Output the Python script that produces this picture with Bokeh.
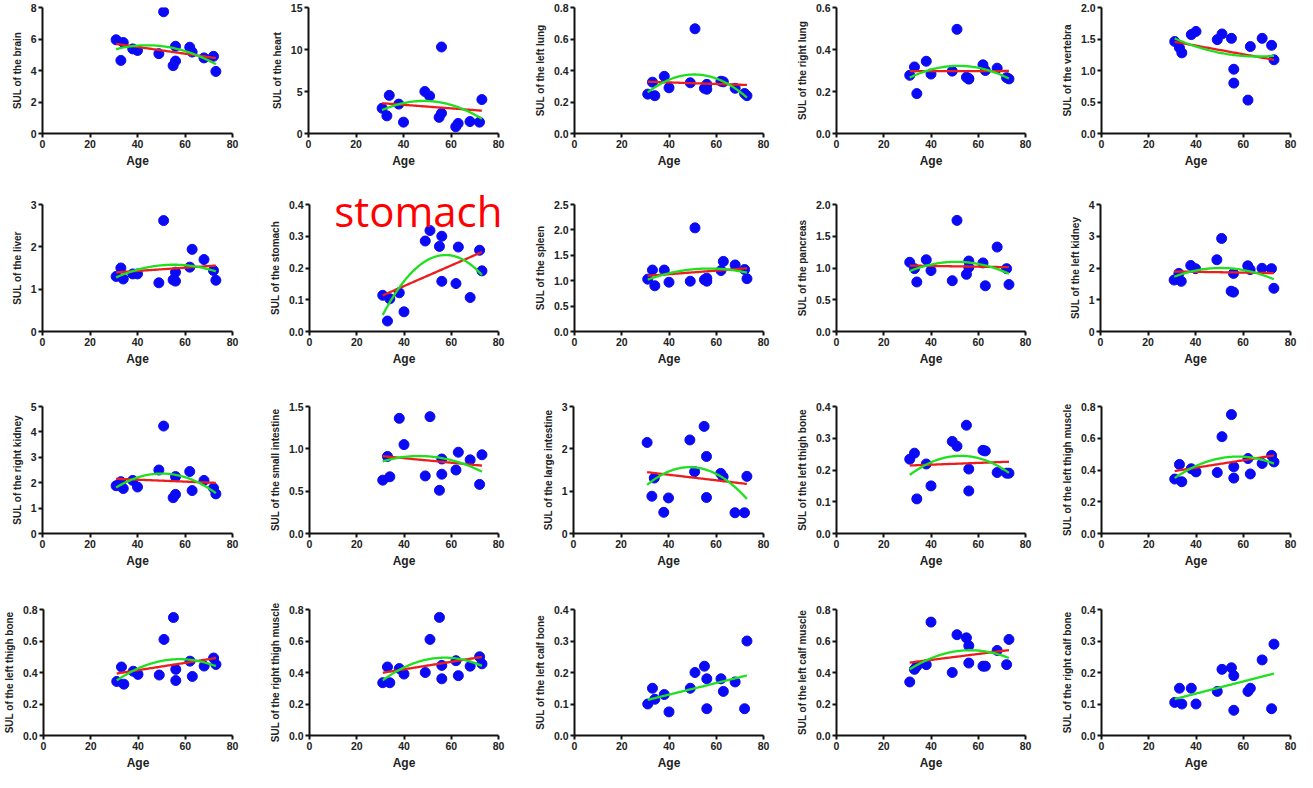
import numpy as np
from bokeh.plotting import figure
from bokeh.layouts import column, row
from bokeh.models import FixedTicker, PrintfTickFormatter, Range1d, Title
from bokeh.embed import file_html
from bokeh.resources import INLINE

# ---------------- data ----------------
age = [31, 33, 34, 38, 40, 49, 51, 55, 56, 56, 62, 63, 68, 72, 73]

brain = [5.95, 4.64, 5.78, 5.37, 5.27, 5.07, 7.73, 4.31, 4.60, 5.54, 5.48, 5.17, 4.80, 4.90, 3.94]
heart = [3.0, 2.1, 4.54, 3.5, 1.35, 5.0, 4.46, 1.92, 10.3, 2.42, 0.8, 1.2, 1.42, 1.35, 4.04]
left_lung = [0.25, 0.326, 0.24, 0.363, 0.29, 0.322, 0.665, 0.287, 0.312, 0.281, 0.332, 0.328, 0.287, 0.254, 0.24]
right_lung = [0.277, 0.317, 0.19, 0.344, 0.283, 0.297, 0.496, 0.268, 0.259, 0.262, 0.327, 0.30, 0.311, 0.266, 0.26]
vertebra = [1.46, 1.36, 1.28, 1.57, 1.62, 1.49, 1.58, 1.51, 1.02, 0.80, 0.53, 1.38, 1.51, 1.40, 1.17]

liver = [1.30, 1.50, 1.24, 1.36, 1.36, 1.15, 2.62, 1.22, 1.40, 1.19, 1.52, 1.94, 1.70, 1.44, 1.21]
stomach = [0.114, 0.033, 0.103, 0.122, 0.062, 0.285, 0.318, 0.268, 0.300, 0.158, 0.151, 0.266, 0.107, 0.256, 0.191]
spleen = [1.03, 1.21, 0.90, 1.21, 0.97, 0.99, 2.04, 1.02, 1.05, 0.99, 1.20, 1.38, 1.31, 1.22, 1.04]
pancreas = [1.09, 0.99, 0.78, 1.13, 0.96, 0.80, 1.75, 0.90, 1.11, 1.01, 1.08, 0.72, 1.33, 0.99, 0.74]
left_kidney = [1.62, 1.83, 1.58, 2.08, 1.98, 2.26, 2.93, 1.27, 1.83, 1.24, 2.07, 1.95, 1.99, 1.98, 1.36]

right_kidney = [1.88, 2.04, 1.77, 2.09, 1.83, 2.50, 4.23, 1.41, 1.54, 2.24, 2.44, 1.69, 2.09, 1.79, 1.56]
small_intestine = [0.63, 0.91, 0.67, 1.36, 1.05, 0.68, 1.38, 0.51, 0.88, 0.70, 0.75, 0.96, 0.87, 0.58, 0.93]
large_intestine = [2.15, 0.88, 1.31, 0.50, 0.84, 2.21, 1.46, 2.53, 1.82, 0.85, 1.42, 1.34, 0.49, 0.49, 1.35]
left_thigh_bone = [0.234, 0.253, 0.109, 0.219, 0.150, 0.290, 0.275, 0.341, 0.203, 0.134, 0.262, 0.260, 0.192, 0.190, 0.190]
left_thigh_muscle = [0.343, 0.435, 0.326, 0.408, 0.388, 0.384, 0.610, 0.749, 0.420, 0.349, 0.472, 0.375, 0.441, 0.492, 0.451]

left_thigh_bone_b = [0.343, 0.435, 0.326, 0.408, 0.388, 0.384, 0.610, 0.749, 0.420, 0.349, 0.472, 0.375, 0.441, 0.492, 0.451]
right_thigh_muscle = [0.335, 0.435, 0.335, 0.425, 0.390, 0.400, 0.610, 0.750, 0.445, 0.360, 0.475, 0.380, 0.440, 0.500, 0.455]
left_calf_bone = [0.100, 0.150, 0.115, 0.130, 0.075, 0.150, 0.200, 0.220, 0.180, 0.085, 0.180, 0.140, 0.170, 0.085, 0.300]
left_calf_muscle = [0.340, 0.420, 0.440, 0.450, 0.720, 0.400, 0.640, 0.620, 0.570, 0.460, 0.440, 0.440, 0.540, 0.450, 0.610]
right_calf_bone = [0.105, 0.150, 0.100, 0.150, 0.100, 0.140, 0.210, 0.215, 0.190, 0.080, 0.140, 0.150, 0.240, 0.085, 0.290]

# (y label, values, y max, tick step, tick format, fits)
panels = [
    [("SUL of the brain", brain, 8, 2, "%d", "both"),
     ("SUL of the heart", heart, 15, 5, "%d", "both"),
     ("SUL of the left lung", left_lung, 0.8, 0.2, "%.1f", "both"),
     ("SUL of the right lung", right_lung, 0.6, 0.2, "%.1f", "both"),
     ("SUL of the vertebra", vertebra, 2.0, 0.5, "%.1f", "both")],
    [("SUL of the liver", liver, 3, 1, "%d", "both"),
     ("SUL of the stomach", stomach, 0.4, 0.1, "%.1f", "both"),
     ("SUL of the spleen", spleen, 2.5, 0.5, "%.1f", "both"),
     ("SUL of the pancreas", pancreas, 2.0, 0.5, "%.1f", "both"),
     ("SUL of the left kidney", left_kidney, 4, 1, "%d", "both")],
    [("SUL of the right kidney", right_kidney, 5, 1, "%d", "both"),
     ("SUL of the small intestine", small_intestine, 1.5, 0.5, "%.1f", "both"),
     ("SUL of the large intestine", large_intestine, 3, 1, "%d", "both"),
     ("SUL of the left thigh bone", left_thigh_bone, 0.4, 0.1, "%.1f", "both"),
     ("SUL of the left thigh muscle", left_thigh_muscle, 0.8, 0.2, "%.1f", "both")],
    [("SUL of the left thigh bone", left_thigh_bone_b, 0.8, 0.2, "%.1f", "both"),
     ("SUL of the right thigh muscle", right_thigh_muscle, 0.8, 0.2, "%.1f", "both"),
     ("SUL of the left calf bone", left_calf_bone, 0.4, 0.1, "%.1f", "linear_green"),
     ("SUL of the left calf muscle", left_calf_muscle, 0.8, 0.2, "%.1f", "both"),
     ("SUL of the right calf bone", right_calf_bone, 0.4, 0.1, "%.1f", "linear_green")],
]

# ---------------- layout ----------------
col_widths = [266, 265, 262, 265, 239]
row_heights = [170, 227, 203, 172]
row_tops = [7, 34, 9, 9]
FRAME_W = 190
FRAME_H = 127
LEFT = 42

FONT = "Liberation Sans"
DOT = "#0a0af5"
RED = "#ee1d1d"
GREEN = "#1ee01e"


def make_panel(spec, w, h, top):
    label, vals, ymax, step, fmt, fits = spec
    p = figure(width=w, height=h, output_backend="svg", toolbar_location=None,
               x_range=Range1d(0, 80), y_range=Range1d(0, ymax),
               min_border_left=LEFT, min_border_right=w - LEFT - FRAME_W,
               min_border_top=top, min_border_bottom=h - top - FRAME_H)
    p.outline_line_color = None
    p.xgrid.visible = False
    p.ygrid.visible = False
    p.background_fill_color = "white"
    p.border_fill_color = "white"

    p.scatter(age, vals, size=10, color=DOT, line_color=DOT)

    xa = np.array(age, dtype=float)
    ya = np.array(vals, dtype=float)
    xs = np.linspace(xa.min(), xa.max(), 80)
    lin = np.polyfit(xa, ya, 1)
    if fits == "both":
        quad = np.polyfit(xa, ya, 2)
        p.line(xs, np.polyval(lin, xs), line_color=RED, line_width=2.3)
        p.line(xs, np.polyval(quad, xs), line_color=GREEN, line_width=2.3)
    else:
        p.line(xs, np.polyval(lin, xs), line_color=GREEN, line_width=2.3)

    nt = int(round(ymax / step))
    p.yaxis.ticker = FixedTicker(ticks=[round(i * step, 4) for i in range(nt + 1)])
    p.yaxis.formatter = PrintfTickFormatter(format=fmt)
    p.xaxis.ticker = FixedTicker(ticks=[0, 20, 40, 60, 80])
    p.xaxis.axis_label = "Age"
    p.yaxis.axis_label = label

    for ax in (p.xaxis[0], p.yaxis[0]):
        ax.axis_line_width = 2
        ax.axis_line_color = "#111111"
        ax.major_tick_line_width = 2
        ax.major_tick_line_color = "#111111"
        ax.major_tick_out = 4
        ax.major_tick_in = 0
        ax.minor_tick_out = 0
        ax.minor_tick_in = 0
        ax.major_label_text_font = FONT
        ax.major_label_text_font_style = "bold"
        ax.major_label_text_font_size = "10.5px"
        ax.major_label_text_color = "#222222"
        ax.major_label_standoff = 2
        ax.axis_label_text_font = FONT
        ax.axis_label_text_font_style = "bold"
        ax.axis_label_text_color = "#222222"
        ax.axis_label_standoff = 5
    p.xaxis.axis_label_standoff = 3
    p.xaxis.axis_label_text_font_size = "12px"
    p.yaxis.axis_label_text_font_size = "10px"
    return p


rows = []
for r, specs in enumerate(panels):
    figs = []
    for c, spec in enumerate(specs):
        p = make_panel(spec, col_widths[c], row_heights[r], row_tops[r])
        if spec[0] == "SUL of the stomach":
            p.add_layout(Title(text="stomach", text_color="#ff0000",
                               text_font="Open Sans", text_font_size="42px",
                               text_font_style="normal", align="right",
                               standoff=-68, offset=-4), "above")
        figs.append(p)
    rows.append(row(*figs, spacing=0))

layout = column(*rows, spacing=0)
open("out.html", "w").write(file_html(layout, INLINE))
